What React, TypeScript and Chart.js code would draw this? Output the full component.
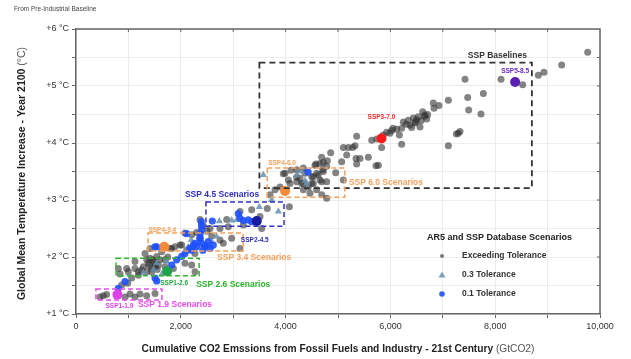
import React, { useEffect, useRef } from 'react';
import { Chart, registerables } from 'chart.js';
Chart.register(...registerables);

const FONT = '"Liberation Sans", Arial, Helvetica, sans-serif';

// ---- data ----
const xTickValues = [0, 2000, 4000, 6000, 8000, 10000];
const yTickValues = [1, 2, 3, 4, 5, 6];

const grayPts: number[][] = [
  [9765,5.59],[9268,5.37],[8931,5.24],[8823,5.19],[8524,5.02],[8111,5.12],[7424,5.12],[7774,4.87],[7475,4.80],[7106,4.75],[7494,4.58],[7729,4.51],[6819,4.70],[6927,4.66],[6832,4.61],[6616,4.55],[6660,4.49],[6533,4.46],[6438,4.44],[6342,4.40],[6247,4.37],[6692,4.42],[6584,4.39],[6470,4.35],[6374,4.31],[6406,4.27],[6215,4.26],[6120,4.24],[6024,4.22],[5929,4.19],[5865,4.14],[6565,4.28],[6171,4.14],[7296,4.17],[7328,4.20],[7260,4.16],[7106,3.95],[6215,3.98],[5738,4.07],[5643,4.05],[5833,3.92],[5356,4.12],[5325,3.95],[5280,3.92],[5197,3.92],[5102,3.92],[5166,3.79],[5344,3.73],[5420,3.73],[5579,3.75],[5725,3.60],[5770,3.61],[5356,3.63],[5070,3.67],[4860,3.83],[4797,3.69],[4688,3.75],[4720,3.66],[4580,3.63],[4956,3.48],[5102,3.35],[4708,3.53],[4625,3.44],[4529,3.41],[3957,3.46],[4052,3.35],[4211,3.40],[4307,3.29],[4498,3.29],[4688,3.32],[6300,4.33],[6500,4.41],[6650,4.47],[6050,4.26],[5990,4.17],[6710,4.50],[6480,4.37],
  [3989,3.47],[4103,3.52],[4212,3.53],[4339,3.56],[4561,3.61],[4657,3.64],[4784,3.59],[4720,3.50],[4593,3.47],[4498,3.41],[4371,3.47],[4275,3.38],[4212,3.32],[4339,3.29],[4434,3.23],[4530,3.29],[4657,3.35],[4784,3.32],[4593,3.18],[4466,3.12],[4339,3.18],[4084,3.29],[3894,3.23],[3798,3.18],[4689,3.09],[4784,3.03],[4072,2.88],[3703,3.09],
  [2367,2.66],[2876,2.66],[3130,2.80],[3353,2.83],[3512,2.71],[2558,2.50],[2748,2.50],[2907,2.53],[3194,2.56],[3544,2.50],[3650,2.85],
  [3129,2.15],[2970,2.33],[2811,2.24],[2589,2.37],[2748,2.30],[1984,2.21],[2111,2.12],[2270,2.06],[1825,2.15],[1412,2.15],[1889,2.18],[2017,2.21],[1794,2.15],[2080,2.42],[2208,2.39],[2303,2.43],[2430,2.55],[2500,2.45],
  [1412,1.98],[1476,1.92],[1508,1.83],[1444,1.74],[1380,1.89],[1317,2.06],[1635,2.09],[1540,2.01],[1285,1.83],[1126,1.80],[1190,1.74],[808,1.80],[967,1.80],[840,1.70],[1126,1.92],[999,1.74],[1253,1.77],[1349,1.74],[1444,1.80],[1571,1.86],[1699,1.83],[1858,1.80],[2080,1.89],[2208,1.86],[2271,1.74],[1063,1.63],[1190,1.68],[986,1.54],[872,1.51],[1460,1.95],[1520,1.88],[1600,1.95],[1350,1.95],[1400,1.85],[1550,1.78],[1700,1.95],[1750,2.00],
  [458,1.30],[520,1.32],[585,1.34],[935,1.30],[1031,1.35],[1126,1.30],[1222,1.35],[1349,1.32],[1508,1.36],
];

const trianglePts: number[][] = [
  [3575,3.44],[4307,3.50],[4402,3.29],[4212,3.44],[4371,3.34],[3734,3.00],[3499,2.88],[3862,2.80],[2736,2.63],[2971,2.64],[3067,2.65],[2589,2.27],[2684,2.36],[1540,1.89],[1730,1.92],[1480,1.78],[1640,1.70],[2140,2.17],[2350,2.25],[2200,2.30],[1290,1.72],
];

const bluePts: number[][] = [
  [4430,3.49],[2602,2.63],[3098,2.76],[3130,2.68],[3289,2.65],[3353,2.62],[3194,2.64],[2390,2.62],[2395,2.55],[2400,2.48],[2370,2.41],[2366,2.33],[2398,2.24],[2461,2.18],[2557,2.15],[2302,2.18],[2239,2.21],[2620,2.21],[2525,2.27],[2111,2.41],[2175,2.15],[1508,2.18],[1826,1.86],[1921,1.95],[2017,2.01],[2080,2.06],[2208,2.12],[2271,2.24],[2367,2.33],[1508,1.63],[1540,1.58],[808,1.45],[935,1.57],[1539,2.18],[2480,2.20],[2420,2.12],
];

const markerNames = ['SSP5-8.5', 'SSP3-7.0', 'SSP4-6.0', 'SSP2-4.5', 'SSP4-3.4', 'SSP1-2.6', 'SSP1-1.9'];
const markerX = [8380, 5830, 3990, 3450, 1685, 1740, 790];
const markerY = [5.07, 4.08, 3.16, 2.63, 2.18, 1.75, 1.34];

const boxNames = ['SSP Baselines', 'SSP 6.0 Scenarios', 'SSP 4.5 Scenarios', 'SSP 3.4 Scenarios', 'SSP 2.6 Scenarios', 'SSP 1.9 Scenarios'];
const boxX0 = [3500, 3650, 2480, 1375, 765, 380];
const boxX1 = [8700, 5130, 3970, 3190, 2350, 1640];
const boxY0 = [3.21, 3.05, 2.54, 2.105, 1.67, 1.245];
const boxY1 = [5.41, 3.56, 2.965, 2.42, 1.98, 1.44];

const legendTitle = 'AR5 and SSP Database Scenarios';
const legendLabels = ['Exceeding Tolerance', '0.3 Tolerance', '0.1 Tolerance'];

// ---- styles ----
const markerColors = ['#5a1fb5', '#ff1a1a', '#f58a3a', '#1a1a9e', '#f58a3a', '#1fa34a', '#e040e8'];
const markerLabelColors = ['#6a2bc5', '#ff2a2a', '#f5a05a', '#2a2ab5', '#f5a05a', '#22a640', '#e040e8'];
const markerLabelOffsets = [[0, -11], [0, -21], [-3, -28], [-2, 19], [-2, -17], [7, 12], [2, 12]];
const boxColors = ['#333333', '#f5a05a', '#3030c0', '#f5a05a', '#2db52d', '#e84ce8'];

const GRAY = 'rgba(50,50,50,0.6)';
const TRI = 'rgba(105,145,175,0.85)';
const BLUE = 'rgba(30,80,255,0.9)';

const overlay = {
  id: 'overlay',
  beforeDatasetsDraw(chart: any) {
    const { ctx, chartArea: a, scales } = chart;
    ctx.save();
    ctx.strokeStyle = '#666';
    ctx.lineWidth = 1.5;
    ctx.beginPath();
    ctx.moveTo(a.left, a.top);
    ctx.lineTo(a.right, a.top);
    ctx.lineTo(a.right, a.bottom);
    ctx.stroke();
    ctx.lineWidth = 1;
    ctx.beginPath();
    for (let v = 1000; v < 10000; v += 1000) {
      const px = scales.x.getPixelForValue(v);
      ctx.moveTo(px, a.top);
      ctx.lineTo(px, a.top + 3);
    }
    for (let v = 1.5; v < 6; v += 0.5) {
      const py = scales.y.getPixelForValue(v);
      ctx.moveTo(a.right, py);
      ctx.lineTo(a.right - 3, py);
    }
    ctx.stroke();
    ctx.restore();
  },
  afterDatasetsDraw(chart: any) {
    const { ctx, scales } = chart;
    const sx = scales.x, sy = scales.y;
    ctx.save();
    boxNames.forEach((name, i) => {
      const x0 = sx.getPixelForValue(boxX0[i]);
      const x1 = sx.getPixelForValue(boxX1[i]);
      const y0 = sy.getPixelForValue(boxY0[i]);
      const y1 = sy.getPixelForValue(boxY1[i]);
      ctx.strokeStyle = boxColors[i];
      ctx.lineWidth = i === 0 ? 1.8 : 1.5;
      ctx.setLineDash(i === 0 ? [6, 4] : [5, 3]);
      ctx.strokeRect(x0, y1, x1 - x0, y0 - y1);
      ctx.setLineDash([]);
      ctx.fillStyle = boxColors[i];
      ctx.font = `bold 8.5px ${FONT}`;
      ctx.textBaseline = 'middle';
      let tx = 0, ty = 0, align: CanvasTextAlign = 'left';
      if (i === 0) { tx = x1 - 5; ty = y1 - 7; align = 'right'; }
      else if (i === 1) { tx = x1 + 4; ty = (y0 + y1) / 2; }
      else if (i === 2) { tx = x0 - 21; ty = y1 - 7; }
      else if (i === 3) { tx = x0 + 69; ty = y0 + 7; }
      else if (i === 4) { tx = x1 - 3; ty = y0 + 9; }
      else { tx = x0 + 42; ty = y0 + 5; }
      ctx.textAlign = align;
      ctx.fillText(name, tx, ty);
    });
    markerNames.forEach((name, i) => {
      const px = sx.getPixelForValue(markerX[i]) + markerLabelOffsets[i][0];
      const py = sy.getPixelForValue(markerY[i]) + markerLabelOffsets[i][1];
      ctx.fillStyle = markerLabelColors[i];
      ctx.font = `bold 6.5px ${FONT}`;
      ctx.textAlign = 'center';
      ctx.textBaseline = 'middle';
      ctx.fillText(name, px, py);
    });
    ctx.restore();
  },
  afterDraw(chart: any) {
    const { ctx, chartArea: a } = chart;
    ctx.save();
    ctx.fillStyle = '#444';
    ctx.font = `6.5px ${FONT}`;
    ctx.textAlign = 'left';
    ctx.textBaseline = 'middle';
    ctx.fillText('From Pre-Industrial Baseline', 14, 9);

    const mixed = (bold: string, normal: string, cx: number, cy: number, size: number) => {
      ctx.font = `bold ${size}px ${FONT}`;
      const w1 = ctx.measureText(bold).width;
      ctx.font = `${size}px ${FONT}`;
      const w2 = ctx.measureText(normal).width;
      const start = cx - (w1 + w2) / 2;
      ctx.textAlign = 'left';
      ctx.textBaseline = 'middle';
      ctx.fillStyle = '#222';
      ctx.font = `bold ${size}px ${FONT}`;
      ctx.fillText(bold, start, cy);
      ctx.fillStyle = '#555';
      ctx.font = `${size}px ${FONT}`;
      ctx.fillText(normal, start + w1, cy);
    };
    mixed('Cumulative CO2 Emssions from Fossil Fuels and Industry - 21st Century ', '(GtCO2)', (a.left + a.right) / 2, 349, 10.2);
    ctx.save();
    ctx.translate(22, (a.top + a.bottom) / 2 + 2);
    ctx.rotate(-Math.PI / 2);
    mixed('Global Mean Temperature Increase - Year 2100 ', '(°C)', 0, 0, 10.5);
    ctx.restore();

    ctx.fillStyle = '#222';
    ctx.font = `bold 9px ${FONT}`;
    ctx.textAlign = 'left';
    ctx.textBaseline = 'middle';
    ctx.fillText(legendTitle, 427, 238);
    const ly = [256, 275, 294];
    legendLabels.forEach((t, i) => {
      ctx.fillStyle = '#333';
      ctx.font = `bold 8.5px ${FONT}`;
      ctx.fillText(t, 462, ly[i]);
      const mx = 442;
      if (i === 0) {
        ctx.fillStyle = 'rgba(90,90,90,0.8)';
        ctx.beginPath(); ctx.arc(mx, ly[i], 2, 0, Math.PI * 2); ctx.fill();
      } else if (i === 1) {
        ctx.fillStyle = TRI;
        ctx.beginPath();
        ctx.moveTo(mx, ly[i] - 3.5); ctx.lineTo(mx + 3.5, ly[i] + 2.5); ctx.lineTo(mx - 3.5, ly[i] + 2.5);
        ctx.closePath(); ctx.fill();
      } else {
        ctx.fillStyle = BLUE;
        ctx.beginPath(); ctx.arc(mx, ly[i], 2.8, 0, Math.PI * 2); ctx.fill();
      }
    });
    ctx.restore();
  },
};

export default function App() {
  const ref = useRef<HTMLCanvasElement>(null);
  useEffect(() => {
    if (!ref.current) return;
    const toXY = (arr: number[][]) => arr.map(p => ({ x: p[0], y: p[1] }));
    const datasets: any[] = [
      { label: 'Exceeding Tolerance', data: toXY(grayPts), backgroundColor: GRAY, borderWidth: 0, pointRadius: 3.5, order: 5 },
      { label: '0.3 Tolerance', data: toXY(trianglePts), pointStyle: 'triangle', backgroundColor: TRI, borderWidth: 0, pointRadius: 4.2, order: 4 },
      { label: '0.1 Tolerance', data: toXY(bluePts), backgroundColor: BLUE, borderWidth: 0, pointRadius: 3.6, order: 3 },
    ];
    markerNames.forEach((n, i) => {
      datasets.push({ label: n, data: [{ x: markerX[i], y: markerY[i] }], backgroundColor: markerColors[i], borderWidth: 0, pointRadius: 5, order: 1 });
    });
    const chart = new Chart(ref.current, {
      type: 'scatter',
      data: { datasets },
      options: {
        responsive: false,
        animation: false,
        devicePixelRatio: 1,
        layout: { padding: { top: 29, right: 31, left: 0, bottom: 0 } },
        plugins: { legend: { display: false }, tooltip: { enabled: false } },
        scales: {
          x: {
            type: 'linear', min: 0, max: 10000,
            afterBuildTicks: (s: any) => { s.ticks = Array.from({ length: 11 }, (_, k) => ({ value: k * 1000 })); },
            ticks: {
              autoSkip: false, maxRotation: 0, padding: 3, color: '#333',
              font: { size: 9, family: FONT },
              callback: (v: any) => (xTickValues.includes(Number(v)) ? Number(v).toLocaleString('en-US') : ''),
            },
            grid: { color: '#ececec', tickColor: '#666', tickLength: 4 },
            border: { color: '#666', width: 1.5 },
            afterFit: (s: any) => { s.height = 45; },
          },
          y: {
            type: 'linear', min: 1, max: 6,
            afterBuildTicks: (s: any) => { s.ticks = Array.from({ length: 11 }, (_, k) => ({ value: 1 + k * 0.5 })); },
            ticks: {
              autoSkip: false, padding: 3, color: '#333',
              font: { size: 9, family: FONT },
              callback: (v: any) => (yTickValues.includes(Number(v)) ? `+${v} °C` : ''),
            },
            grid: { color: '#ececec', tickColor: '#666', tickLength: 4 },
            border: { color: '#666', width: 1.5 },
            afterFit: (s: any) => { s.width = 76; },
          },
        },
      },
      plugins: [overlay],
    } as any);
    return () => chart.destroy();
  }, []);
  return (
    <div style={{ position: 'absolute', left: 0, top: 0, width: 631, height: 359, background: '#fff' }}>
      <canvas ref={ref} width={631} height={359} style={{ display: 'block' }} />
    </div>
  );
}
